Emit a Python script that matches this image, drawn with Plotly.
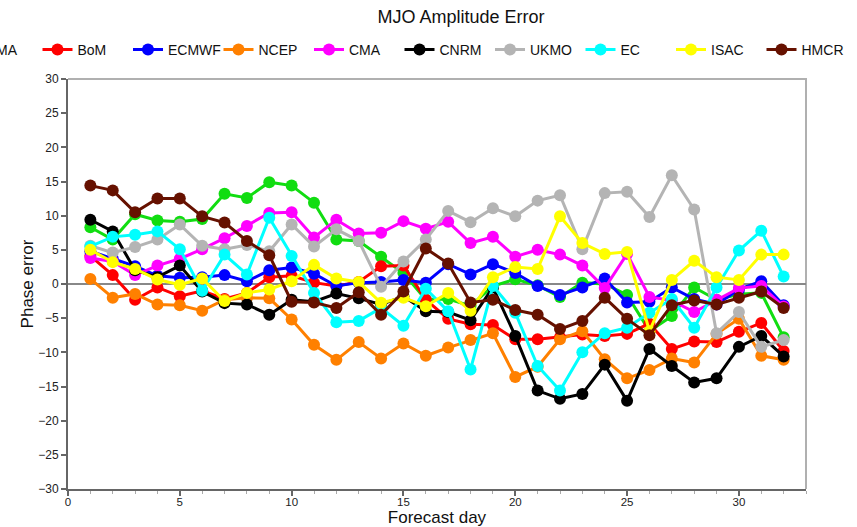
import plotly.graph_objects as go

# Forecast lead time (days)
days = list(range(1, 33))

# Phase error per model for each forecast day
jma = [8.3, 6.5, 10.2, 9.3, 9.1, 9.5, 13.2, 12.6, 14.9, 14.4, 11.9, 6.5, 6.3, 4.0, 1.6, -2.3,
       -2.2, -3.2, -0.3, 0.7, -0.2, -1.9, 0.2, 0.0, -1.6, -6.9, -4.7, -0.5, -2.3, -1.5, -1.3, -7.8]
bom = [4.1, 1.3, -2.3, -0.5, -1.8, -1.0, -2.2, -1.3, 1.0, 1.2, 0.2, -0.3, 0.3, 2.6, 2.7, -2.3,
       -5.1, -5.9, -6.0, -8.1, -8.1, -7.8, -7.4, -7.6, -7.3, -5.8, -9.5, -8.4, -8.5, -7.0, -5.7, -9.8]
ecmwf = [4.8, 3.7, 2.6, 1.2, 0.9, 1.0, 1.3, 0.4, 2.0, 2.4, 1.5, -0.3, 0.2, 0.3, 0.6, 0.2,
         2.9, 1.4, 2.9, 1.6, -0.3, -1.6, -0.5, 0.8, -2.7, -2.6, -0.5, -2.2, -3.0, -0.8, 0.4, -3.1]
ncep = [0.75, -2.0, -1.45, -3.0, -3.1, -3.9, -2.3, -2.0, -2.1, -5.2, -8.9, -11.1, -8.5, -10.9, -8.7, -10.5,
        -9.3, -8.2, -7.2, -13.6, -12.1, -8.1, -6.9, -11.0, -13.8, -12.6, -10.9, -11.5, -7.3, -5.1, -10.5, -11.1]
cma = [3.8, 3.3, 1.3, 2.7, 3.7, 5.1, 6.7, 8.5, 10.4, 10.5, 6.8, 9.4, 7.4, 7.5, 9.2, 8.1,
       9.1, 6.0, 6.9, 4.0, 5.0, 4.3, 2.7, -0.6, 4.4, -1.9, -2.4, -4.1, -2.3, -0.6, -0.3, -3.3]
cnrm = [9.4, 7.7, 2.0, 1.0, 2.7, -1.1, -2.8, -3.0, -4.5, -2.3, -2.6, -1.4, -2.1, -3.0, -1.8, -4.0,
        -4.1, -5.3, -0.5, -7.6, -15.6, -16.8, -16.1, -11.8, -17.1, -9.5, -12.0, -14.4, -13.8, -9.2, -7.6, -10.6]
ukmo = [5.6, 4.6, 5.4, 6.5, 8.7, 5.6, 5.1, 5.7, 4.8, 8.7, 5.5, 8.0, 6.3, -0.4, 3.3, 6.5,
        10.7, 9.05, 11.1, 9.9, 12.2, 13.0, 5.1, 13.3, 13.5, 9.8, 15.9, 10.9, -7.2, -4.1, -9.2, -8.2]
ec = [5.5, 6.9, 7.2, 7.7, 5.1, -1.0, 4.3, 1.4, 9.7, 4.1, -1.3, -5.6, -5.4, -3.5, -6.1, -0.7,
      -4.0, -12.5, -0.3, -4.2, -12.0, -15.6, -10.0, -7.2, -6.4, -4.2, -2.2, -6.4, -0.5, 4.9, 7.8, 1.1]
isac = [5.0, 3.2, 2.2, 0.65, -0.1, 0.8, -2.5, -1.3, -0.8, 0.4, 2.8, 0.8, 0.3, -2.75, -2.0, -3.25,
        -1.3, -3.9, 1.0, 2.5, 2.2, 9.9, 6.0, 4.4, 4.7, -6.9, 0.6, 3.4, 1.0, 0.6, 4.3, 4.3]
hmcr = [14.4, 13.7, 10.5, 12.5, 12.5, 9.9, 9.0, 6.3, 4.2, -2.6, -2.7, -3.5, -1.2, -4.5, -1.1, 5.2,
        3.0, -2.7, -2.3, -3.8, -4.5, -6.6, -5.4, -2.0, -5.1, -7.5, -3.1, -2.4, -3.0, -2.0, -1.1, -3.5]

models = ["JMA", "BoM", "ECMWF", "NCEP", "CMA", "CNRM", "UKMO", "EC", "ISAC", "HMCR"]
series = [jma, bom, ecmwf, ncep, cma, cnrm, ukmo, ec, isac, hmcr]
colors = ["#11dd11", "#ff0000", "#0000ff", "#ff8000", "#ff00ff",
          "#000000", "#b4b4b4", "#00ffff", "#ffff00", "#661100"]

font_family = "Liberation Sans, Arial, Helvetica, sans-serif"

# plot-area geometry (px) used to place the legend row in paper units
FIG_W, FIG_H = 857, 527
M_L, M_R, M_T, M_B = 68, 51, 79, 38
PLOT_W = FIG_W - M_L - M_R
PLOT_H = FIG_H - M_T - M_B
LEGEND_Y_PX = 50      # legend row centre, measured from the top edge
KEY_STEP = 90.5       # horizontal spacing of legend entries (px)
KEY_TEXT_PAD = 40     # offset of the entry label from the entry start (plotly)
FIRST_LABEL_PX = -13  # left edge of the first key label (page px)

legend_y = (FIG_H - M_B - LEGEND_Y_PX) / PLOT_H


def key_x(slot):
    """Paper x of the start of legend slot `slot` (slot 0 = first model)."""
    px = FIRST_LABEL_PX - KEY_TEXT_PAD + slot * KEY_STEP
    return (px - M_L) / PLOT_W


fig = go.Figure()
for i, (name, vals, col) in enumerate(zip(models, series, colors)):
    fig.add_trace(go.Scatter(
        x=days, y=vals, name=name, mode="lines+markers",
        line=dict(color=col, width=3),
        marker=dict(color=col, size=12),
        # first model's key runs off the page edge and is labelled separately;
        # the row is split over two legend boxes so it never wraps
        showlegend=(i > 0),
        legend=("legend" if i < 7 else "legend2"),
    ))

legend_common = dict(orientation="h", xanchor="left", y=legend_y, yanchor="middle",
                     entrywidth=KEY_STEP - KEY_TEXT_PAD - 5, entrywidthmode="pixels",
                     font=dict(size=14, color="#111"),
                     bgcolor="rgba(0,0,0,0)", tracegroupgap=0)

fig.update_layout(
    width=FIG_W, height=FIG_H,
    margin=dict(l=M_L, r=M_R, t=M_T, b=M_B, autoexpand=False),
    paper_bgcolor="white", plot_bgcolor="white",
    font=dict(family=font_family, color="#222"),
    title=dict(text="MJO Amplitude Error", x=0.538, xanchor="center",
               y=1 - 17 / FIG_H, yanchor="middle",
               font=dict(size=18, color="#111")),
    showlegend=True,
    legend=dict(x=key_x(1), **legend_common),
    legend2=dict(x=key_x(7), **legend_common),
)

# key label for the first model, partly beyond the left edge of the page
fig.add_annotation(text=models[0], xref="paper", yref="paper",
                   x=(FIRST_LABEL_PX - M_L) / PLOT_W, y=legend_y,
                   xanchor="left", yanchor="middle", showarrow=False,
                   font=dict(size=14, color="#111"))

fig.update_xaxes(
    range=[0, 33], tickmode="linear", tick0=0, dtick=5,
    ticks="outside", ticklen=5, tickwidth=1.5, tickcolor="#666",
    minor=dict(dtick=1, tick0=0, ticks="outside", ticklen=3, tickcolor="#aaa", tickwidth=1),
    showline=True, linecolor="#666", linewidth=2,
    showgrid=False, zeroline=False,
    tickfont=dict(size=11.5, color="#222"), ticklabelstandoff=-4,
    title=dict(text="Forecast day", font=dict(size=17, color="#111"), standoff=14),
)
fig.update_yaxes(
    range=[-30, 30], tickmode="linear", tick0=-30, dtick=5,
    ticks="outside", ticklen=5, tickwidth=1.5, tickcolor="#666",
    showline=True, linecolor="#666", linewidth=2,
    showgrid=False, zeroline=True, zerolinecolor="#888", zerolinewidth=1.5,
    tickfont=dict(size=12, color="#222"),
    title=dict(text="Phase error", font=dict(size=17, color="#111"), standoff=0),
)

# light frame on the top and right sides of the plotting area
fig.add_shape(type="path", xref="paper", yref="paper",
              path="M 0 1 L 1 1 L 1 0", line=dict(color="#b0b0b0", width=2), layer="below")

fig.write_html("out.html")
